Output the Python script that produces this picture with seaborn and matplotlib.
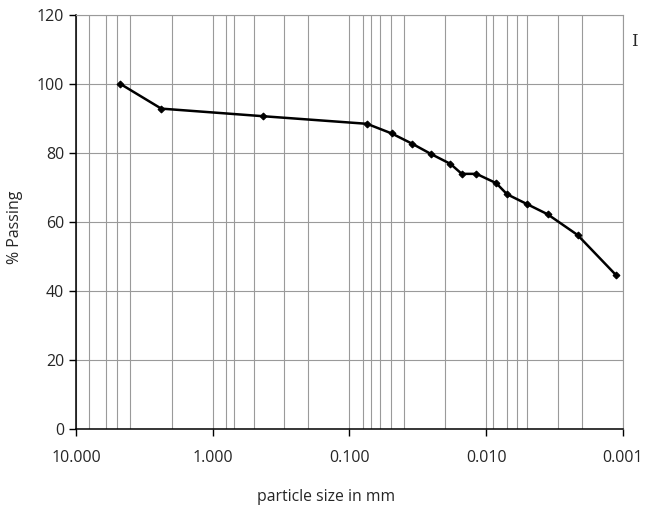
import matplotlib
matplotlib.use("Agg")
import matplotlib.pyplot as plt
import matplotlib.ticker as mticker
import seaborn as sns
import pandas as pd

# grain size distribution
particle_mm = [4.76, 2.38, 0.429, 0.0745, 0.0491, 0.0347, 0.0252, 0.0183,
               0.0151, 0.0118, 0.00845, 0.00705, 0.00501, 0.00356, 0.00215, 0.00112]
pct_passing = [100.0, 92.8, 90.6, 88.4, 85.6, 82.6, 79.6, 76.8,
               73.9, 73.9, 71.2, 68.0, 65.1, 62.2, 56.2, 44.5]

# vertical grid positions (sieve / hydrometer sizes)
grid_sizes = [8, 6, 5, 4, 2, 1, 0.8, 0.7, 0.5, 0.3, 0.2, 0.1, 0.08, 0.07, 0.06,
              0.05, 0.04, 0.02, 0.01, 0.009, 0.007, 0.006, 0.005, 0.003, 0.002]
decade_ticks = [10, 1, 0.1, 0.01, 0.001]
y_ticks = [0, 20, 40, 60, 80, 100, 120]

df = pd.DataFrame({"size": particle_mm, "passing": pct_passing})

sns.set_style("white")
plt.rcParams["font.family"] = ["Open Sans", "DejaVu Sans"]

fig = plt.figure(figsize=(6.45, 5.09), dpi=100)
ax = fig.add_axes([0.1178, 0.1572, 0.8481, 0.8139])

sns.lineplot(data=df, x="size", y="passing", ax=ax, color="black", linewidth=1.8,
             marker="D", markersize=3.5, markeredgecolor="black", sort=False)

ax.set_xscale("log")
ax.set_xlim(10, 0.001)
ax.set_ylim(0, 120)

ax.xaxis.set_major_locator(mticker.FixedLocator(decade_ticks))
ax.xaxis.set_major_formatter(mticker.FuncFormatter(lambda v, p: f"{v:.3f}"))
ax.xaxis.set_minor_locator(mticker.FixedLocator(grid_sizes))
ax.xaxis.set_minor_formatter(mticker.NullFormatter())
ax.set_yticks(y_ticks)

ax.grid(True, which="both", axis="x", color="#9a9a9a", linewidth=0.8)
ax.grid(True, which="major", axis="y", color="#9a9a9a", linewidth=0.8)
ax.set_axisbelow(True)

ax.tick_params(axis="both", which="major", direction="out", length=5, width=1,
               color="black", labelsize=11.5, bottom=True, left=True)
ax.tick_params(axis="x", which="major", pad=10)
ax.tick_params(axis="x", which="minor", length=0)

for side in ["left", "bottom"]:
    ax.spines[side].set_color("black")
    ax.spines[side].set_linewidth(1.1)
for side in ["top", "right"]:
    ax.spines[side].set_color("#9a9a9a")
    ax.spines[side].set_linewidth(0.8)

ax.set_xlabel("particle size in mm", fontsize=11.3)
ax.xaxis.set_label_coords(0.457, -0.146)
ax.set_ylabel("% Passing", fontsize=11.5)
ax.yaxis.set_label_coords(-0.096, 0.488)

# cut-off legend glyph at the right edge
fig.text(0.978, 0.918, "I", family="DejaVu Serif", fontsize=12, va="center")

fig.savefig("out.png", dpi=100)
